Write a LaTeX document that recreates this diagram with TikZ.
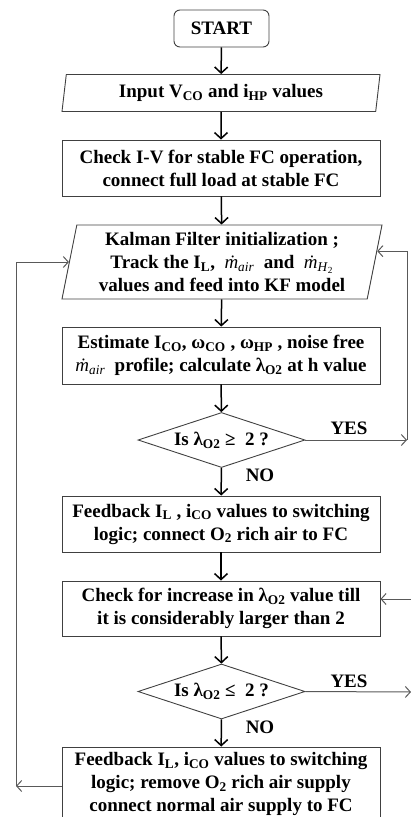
\documentclass[tikz,border=0pt]{standalone}
\usepackage{fontspec}
\setmainfont{Liberation Serif}
\usepackage{tikz}
\usetikzlibrary{shapes.geometric,arrows.meta}

\newcommand{\mdot}{\textit{\mdseries\.{m}}}

\begin{document}
\begin{tikzpicture}[x=1pt,y=-1pt,
    every node/.style={font=\bfseries\fontsize{19}{23}\selectfont, align=center, text=black},
    procbox/.style={draw=black!75, line width=0.9pt, minimum width=318pt, inner sep=0pt},
    iobox/.style={draw=black!75, line width=0.9pt, trapezium, trapezium left angle=76,
        trapezium right angle=104, trapezium stretches body, inner sep=0pt},
    decbox/.style={draw=black!75, line width=0.9pt, diamond, aspect=3.04, inner sep=0pt,
        minimum width=167pt, minimum height=55pt},
    flow/.style={line width=1.5pt, -{Straight Barb[length=6pt,width=13pt]}},
    loop/.style={draw=black!65, line width=1pt, -{Straight Barb[length=5pt,width=11pt]}}]
  \useasboundingbox (0,0) rectangle (411,817);
  % boxes down the middle
  \node[draw=black!75, line width=0.9pt, rounded corners=6pt, minimum width=95pt,
        minimum height=37pt] (start) at (221.5,28.5) {START};
  \node[iobox, minimum width=318pt, minimum height=37pt] (input) at (221,93)
        {Input V\textsubscript{CO} and i\textsubscript{HP} values};
  \node[procbox, minimum height=56pt] (check) at (221,168)
        {Check I-V for stable FC operation,\\connect full load at stable FC};
  \node[iobox, minimum width=320pt, minimum height=74pt] (kalman) at (222,262)
        {Kalman Filter initialization ;\\Track the I\textsubscript{L}, \ \mdot\textsubscript{\textit{\mdseries air}} \ and \ \mdot\textsubscript{\textit{\mdseries H}\textsubscript{\mdseries 2}}\\values and feed into KF model};
  \node[procbox, minimum height=57pt] (estim) at (221,355.5)
        {Estimate I\textsubscript{CO}, ω\textsubscript{CO} , ω\textsubscript{HP} , noise free\\\mdot\textsubscript{\textit{\mdseries air}} \ profile; calculate λ\textsubscript{O2} at h value};
  \node[decbox] (dec1) at (221.5,440) {Is λ\textsubscript{O2} ≥ \ 2 ?};
  \node[procbox, minimum height=56pt] (feed1) at (221,524)
        {Feedback I\textsubscript{L} , i\textsubscript{CO} values to switching\\logic; connect O\textsubscript{2} rich air to FC};
  \node[procbox, minimum height=55pt] (check2) at (221,608.5)
        {Check for increase in λ\textsubscript{O2} value till\\it is considerably larger than 2};
  \node[decbox] (dec2) at (221.5,691.5) {Is λ\textsubscript{O2} ≤ \ 2 ?};
  \node[procbox, minimum height=74pt] (feed2) at (221,784)
        {Feedback I\textsubscript{L}, i\textsubscript{CO} values to switching\\logic; remove O\textsubscript{2} rich air supply\\connect normal air supply to FC};
  % main flow
  \draw[flow] (start) -- (input);
  \draw[flow] (input) -- (check);
  \draw[flow] (check) -- (kalman);
  \draw[flow] (kalman) -- (estim);
  \draw[flow] (estim) -- (dec1);
  \draw[flow] (dec1) -- (feed1);
  \draw[flow] (feed1) -- (check2);
  \draw[flow] (check2) -- (dec2);
  \draw[flow] (dec2) -- (feed2);
  \node (no1) at (260,475) {NO};
  \node (no2) at (260,727) {NO};
  \node (yes1) at (349,428) {YES};
  \node (yes2) at (349,681) {YES};
  % loops
  \coordinate (r1) at (407,440);
  \coordinate (r2) at (411,692);
  \coordinate (r3) at (412,599);
  \coordinate (l1) at (16,786);
  \draw[loop] (dec1.east) -- (r1);
  \draw[loop] (r1) |- (kalman.4);
  \draw[loop] (dec2.east) -- (r2);
  \draw[loop] (r3) -- (check2.east |- r3);
  \draw[loop] (feed2.west |- l1) -- (l1);
  \draw[loop] (l1) |- (kalman.west);
\end{tikzpicture}
\end{document}
